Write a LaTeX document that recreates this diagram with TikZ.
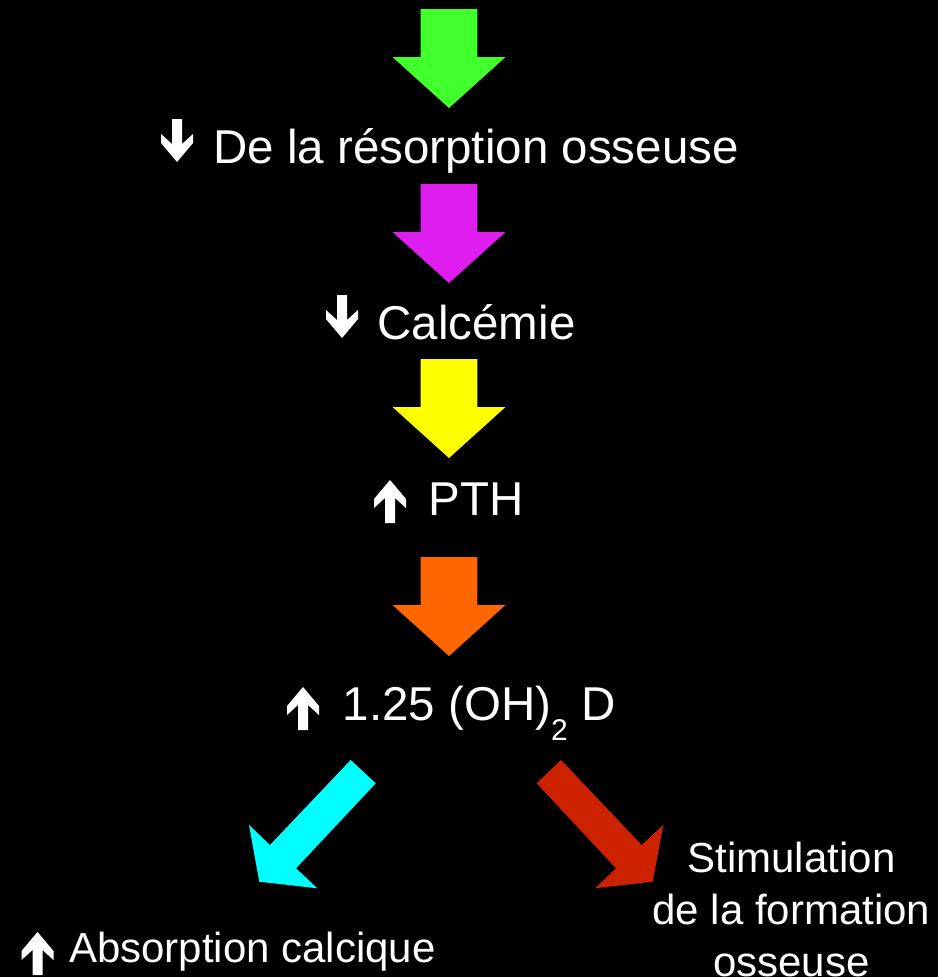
\documentclass[tikz,border=0pt]{standalone}
\usepackage{fontspec}
\setmainfont{Liberation Sans}
\definecolor{arrgreen}{RGB}{66,255,46}
\definecolor{arrmagenta}{RGB}{221,30,238}
\definecolor{arryellow}{RGB}{255,255,0}
\definecolor{arrorange}{RGB}{255,102,0}
\definecolor{arrcyan}{RGB}{0,255,255}
\definecolor{arrred}{RGB}{204,34,0}
\tikzset{
  lbl/.style={text=white,inner sep=0pt,anchor=base,font=\fontsize{47.5}{52}\selectfont},
  smalllbl/.style={lbl,font=\fontsize{42}{52}\selectfont},
  uptick/.pic={\fill[white] (0,0) -- (16,19) -- (16,28) -- (5,18) -- (5,43) -- (-5,43) -- (-5,18) -- (-16,28) -- (-16,19) -- cycle;},
  bigarrow/.pic={\fill (0,0) -- (56.5,-51) -- (28.3,-51) -- (28.3,-99) -- (-28.3,-99) -- (-28.3,-51) -- (-56.5,-51) -- cycle;}
}

\begin{document}
\begin{tikzpicture}[x=1pt,y=-1pt]
        \fill[black] (0,0) rectangle (938,977);
        \useasboundingbox (0,0) rectangle (938,977);

        \node[lbl] (resorption) at (476,163) {De la résorption osseuse};
        \node[lbl] (calcemie) at (476.5,339) {Calcémie};
        \node[lbl] (pth) at (476,515) {PTH};
        \node[lbl] (vitd) at (479,720) {1.25 (OH)\raisebox{-20pt}{\fontsize{30}{30}\selectfont 2} D};
        \node[smalllbl] (absorption) at (252.5,962) {Absorption calcique};
        \node[smalllbl,align=center,anchor=north] (formation) at (791.5,842) {Stimulation\\de la formation\\osseuse};

        \pic[yscale=-1] at (177,162) {uptick};
        \pic[yscale=-1] at (342,338) {uptick};
        \pic at (390,480) {uptick};
        \pic at (303,687) {uptick};
        \pic at (37.5,932) {uptick};

        \pic[arrgreen] at (449,108) {bigarrow};
        \pic[arrmagenta] at (449,283) {bigarrow};
        \pic[arryellow] at (449,458) {bigarrow};
        \pic[arrorange] at (449,656) {bigarrow};

        \fill[arrcyan] (350.7,760) -- (375.7,783.3) -- (296,868.3) -- (317.3,888.3) -- (259.3,881.7) -- (249,825) -- (270,845) -- cycle;
        \fill[arrred] (561,760) -- (536.7,783.3) -- (616,868.3) -- (595,888.3) -- (652.7,881.7) -- (663.3,825) -- (641.7,845) -- cycle;
    \end{tikzpicture}
\end{document}
